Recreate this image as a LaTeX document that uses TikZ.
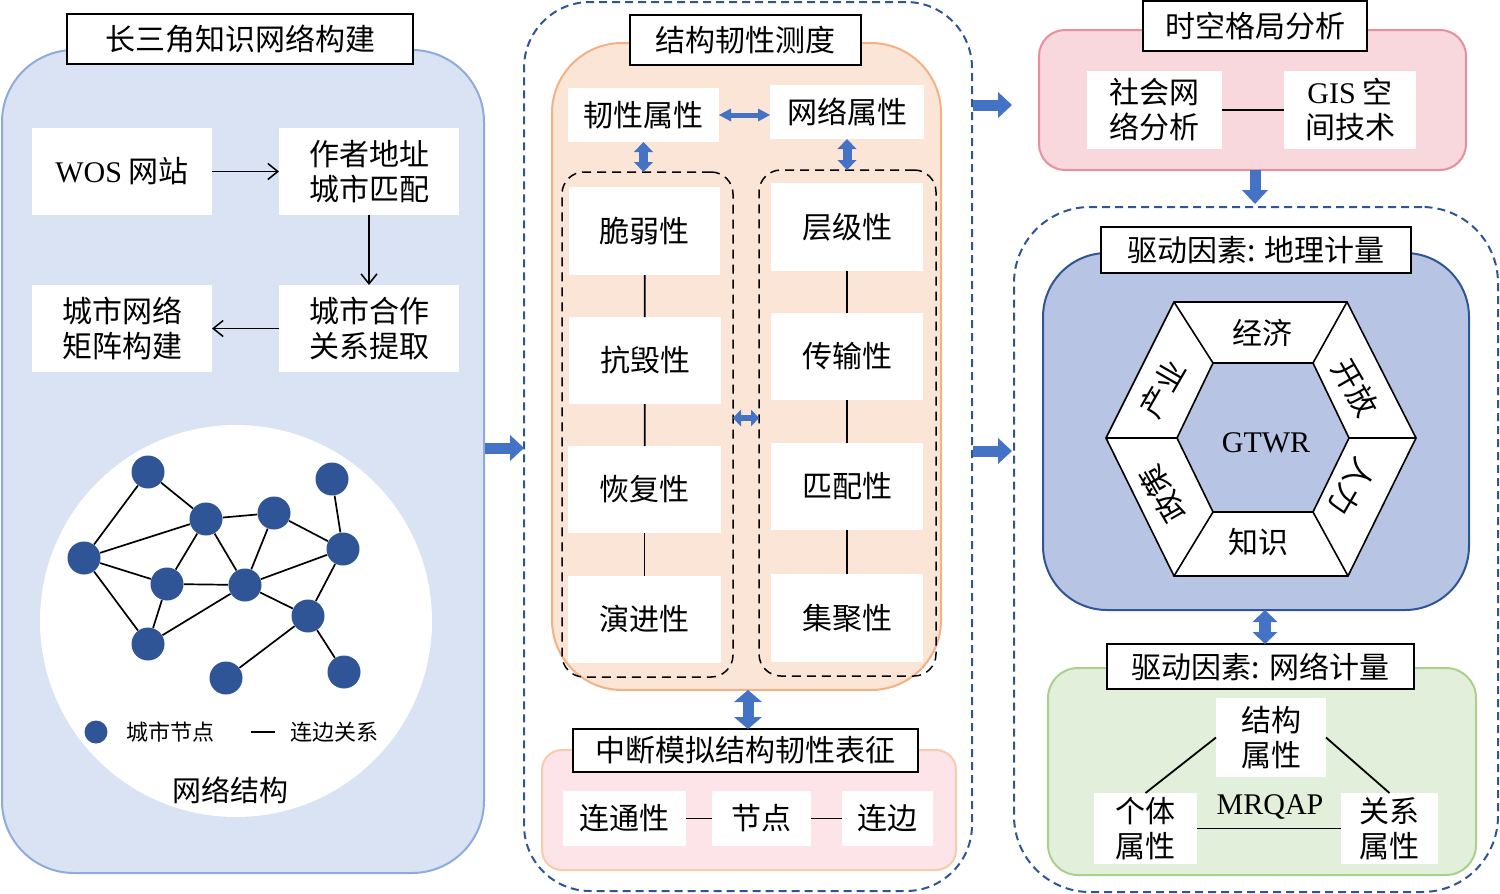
\documentclass[tikz,border=0pt]{standalone}
\usepackage{fontspec}
\setmainfont{Liberation Serif}
\newfontfamily\cjk{Noto Sans CJK SC}
\usetikzlibrary{arrows.meta}
\definecolor{lpfill}{HTML}{DAE3F3}
\definecolor{lpdraw}{HTML}{8FAADC}
\definecolor{orfill}{HTML}{FBE5D6}
\definecolor{ordraw}{HTML}{F4B183}
\definecolor{pkfill}{HTML}{FCE4E8}
\definecolor{pkdraw}{HTML}{F8CBAD}
\definecolor{tpfill}{HTML}{F8D7DD}
\definecolor{tpdraw}{HTML}{E98E9E}
\definecolor{gbfill}{HTML}{B7C4E3}
\definecolor{darkblue}{HTML}{2F5597}
\definecolor{arrblue}{HTML}{4472C4}
\definecolor{grfill}{HTML}{E2EFDA}
\definecolor{grdraw}{HTML}{A9D18E}
\newcommand\lat[1]{{\rmfamily #1}}
% #1 style, #2 name, #3 x1, #4 y1, #5 x2, #6 y2, #7 text
\newcommand\bx[7]{\node[#1, minimum width={(#5-#3)*0.5pt}, minimum height={(#6-#4)*0.5pt}] (#2) at ({(#3+#5)/2},{(#4+#6)/2}) {#7};}
\begin{document}
\begin{tikzpicture}[x=0.5pt,y=-0.5pt,
  font=\cjk\fontsize{15}{17.5}\selectfont,
  box/.style={inner sep=0pt, outer sep=0pt, align=center},
  panel/.style={box, line width=1pt},
  bluedash/.style={panel, draw=darkblue, dash pattern=on 4pt off 2.5pt},
  coldash/.style={panel, draw=black, line width=0.75pt, dash pattern=on 4.5pt off 3pt, rounded corners=11pt},
  wbox/.style={box, fill=white},
  tbox/.style={box, fill=white, draw=black, line width=0.8pt},
  cnode/.style={circle, fill=darkblue, inner sep=0pt, minimum size=16.5pt},
  edge/.style={draw=black, line width=0.85pt},
  conn/.style={draw=black, line width=0.9pt},
  thinarr/.style={draw=black, line width=0.75pt, -{Straight Barb[length=5pt,width=8pt]}},
  bigarr/.style={draw=arrblue, line width=5.5pt, -{Triangle[length=7pt,width=13pt,line width=0pt]}},
  bigdbl/.style={draw=arrblue, line width=5.5pt, {Triangle[length=6pt,width=14pt,line width=0pt]}-{Triangle[length=6pt,width=14pt,line width=0pt]}},
  gdbl/.style={draw=arrblue, line width=6pt, {Triangle[length=6pt,width=12.5pt,line width=0pt]}-{Triangle[length=6pt,width=12.5pt,line width=0pt]}},
  smdblv/.style={draw=arrblue, line width=4.5pt, {Triangle[length=5pt,width=9.5pt,line width=0pt]}-{Triangle[length=5pt,width=9.5pt,line width=0pt]}},
  smdblh/.style={draw=arrblue, line width=2.5pt, {Triangle[length=6pt,width=6.5pt,line width=0pt]}-{Triangle[length=6pt,width=6.5pt,line width=0pt]}},
  middbl/.style={draw=arrblue, line width=3pt, {Triangle[length=4pt,width=8.5pt,line width=0pt]}-{Triangle[length=4pt,width=8.5pt,line width=0pt]}},
  hexl/.style={draw=black, line width=0.8pt},
  legend/.style={box, font=\cjk\fontsize{11}{13}\selectfont},
]
\useasboundingbox (0,0) rectangle (1500,894);

% ===== Left panel =====
\bx{panel, fill=lpfill, draw=lpdraw, rounded corners=36pt}{lp}{2}{50}{484}{873}{}
\bx{tbox}{lpt}{67}{14}{413}{64}{长三角知识网络构建}
\bx{wbox}{wos}{32}{128}{212}{215}{\lat{WOS} 网站}
\bx{wbox}{addr}{279}{128}{459}{215}{作者地址\\城市匹配}
\bx{wbox}{mat}{32}{285}{212}{372}{城市网络\\矩阵构建}
\bx{wbox}{coop}{279}{285}{459}{372}{城市合作\\关系提取}
\draw[thinarr] (wos) -- (addr);
\draw[thinarr] (addr) -- (coop);
\draw[thinarr] (coop) -- (mat);

\node[circle, fill=white, inner sep=0pt, minimum size=196pt] (circ) at (236,621) {};
\foreach \n/\x/\y in {n1/148/472, n2/206/519, n3/274/513, n4/332/479, n5/84/558, n6/343/549,
  n7/167/584, n8/245/585, n9/308/616, n10/148/644, n11/226/678, n12/344/672}
  \node[cnode] (\n) at (\x,\y) {};
\foreach \a/\b in {n1/n5, n1/n2, n2/n5, n2/n3, n2/n7, n2/n8, n3/n8, n3/n6, n4/n6, n6/n8, n6/n9,
  n5/n7, n5/n10, n7/n8, n7/n10, n8/n10, n8/n9, n9/n11, n9/n12}
  \draw[edge] (\a) -- (\b);
\node[cnode, minimum size=11.5pt] (lg1) at (96,732) {};
\node[legend] (lg1t) at (170,732) {城市节点};
\coordinate (lg2a) at (251,732);
\coordinate (lg2b) at (275,732);
\draw[edge] (lg2a) -- (lg2b);
\node[legend] (lg2t) at (334,732) {连边关系};
\node[box, font=\cjk\fontsize{14.5}{17}\selectfont] (netl) at (230,790) {网络结构};

% ===== Middle panel =====
\bx{bluedash, rounded corners=33pt}{mp}{524}{2}{972}{891}{}
\bx{panel, fill=orfill, draw=ordraw, rounded corners=35pt}{op}{552}{43}{941}{690}{}
\bx{coldash}{lcol}{562}{172}{733}{677}{}
\bx{coldash}{rcol}{759}{170}{936}{676}{}
\bx{tbox}{opt}{630}{15}{861}{65}{结构韧性测度}
\bx{wbox}{rt}{568}{88}{719}{142}{韧性属性}
\bx{wbox}{nt}{770}{85}{924}{139}{网络属性}
\bx{wbox}{c1}{569}{187}{720}{275}{脆弱性}
\bx{wbox}{c2}{569}{317}{721}{404}{抗毁性}
\bx{wbox}{c3}{568}{446}{721}{533}{恢复性}
\bx{wbox}{c4}{568}{576}{721}{663}{演进性}
\bx{wbox}{d1}{771}{183}{923}{271}{层级性}
\bx{wbox}{d2}{771}{313}{923}{400}{传输性}
\bx{wbox}{d3}{771}{443}{923}{530}{匹配性}
\bx{wbox}{d4}{771}{574}{923}{662}{集聚性}
\draw[conn] (c1) -- (c2);
\draw[conn] (c2) -- (c3);
\draw[conn] (c3) -- (c4);
\draw[conn] (d1) -- (d2);
\draw[conn] (d2) -- (d3);
\draw[conn] (d3) -- (d4);
\draw[smdblh] (rt.east) -- (rt.east -| nt.west);
\draw[smdblv] (rt.south) -- (rt.south |- lcol.north);
\draw[smdblv] (nt.south) -- (nt.south |- rcol.north);
\coordinate (mh) at (733,418);
\draw[middbl] (mh) -- (mh -| rcol.west);

\bx{panel, fill=pkfill, draw=pkdraw, rounded corners=10pt}{bp}{542}{750}{956}{870}{}
\bx{tbox}{bpt}{573}{729}{918}{772}{中断模拟结构韧性表征}
\bx{wbox}{b1}{563}{791}{686}{846}{连通性}
\bx{wbox}{b2}{712}{791}{811}{846}{节点}
\bx{wbox}{b3}{842}{791}{933}{846}{连边}
\draw[conn] (b1) -- (b2);
\draw[conn] (b2) -- (b3);
\coordinate (d748) at (748,690);
\draw[bigdbl] (d748) -- (d748 |- bpt.north);

% ===== Right: top =====
\bx{panel, fill=tpfill, draw=tpdraw, rounded corners=13pt}{tp}{1039}{30}{1466}{170}{}
\bx{tbox}{tpt}{1143}{1}{1367}{51}{时空格局分析}
\bx{wbox}{sna}{1087}{71}{1222}{149}{社会网\\络分析}
\bx{wbox}{gis}{1284}{71}{1416}{149}{\lat{GIS} 空\\间技术}
\draw[conn] (sna) -- (gis);

% ===== Right: dashed group =====
\bx{bluedash, rounded corners=38pt}{rp}{1014}{207}{1498}{892}{}
\bx{panel, fill=gbfill, draw=darkblue, rounded corners=32pt}{gp}{1043}{253}{1469}{610}{}
\bx{tbox}{gpt}{1101}{227}{1411}{273}{驱动因素: 地理计量}

\coordinate (O1) at (1106,438);
\coordinate (O2) at (1174,302);
\coordinate (O3) at (1347,302);
\coordinate (O4) at (1416,438);
\coordinate (O5) at (1348,576);
\coordinate (O6) at (1174,576);
\coordinate (I1) at (1177,438);
\coordinate (I2) at (1213,363);
\coordinate (I3) at (1313,363);
\coordinate (I4) at (1349,438);
\coordinate (I5) at (1313,512);
\coordinate (I6) at (1213,512);
\draw[hexl, fill=white] (O1) -- (O2) -- (O3) -- (O4) -- (O5) -- (O6) -- cycle;
\draw[hexl, fill=gbfill] (I1) -- (I2) -- (I3) -- (I4) -- (I5) -- (I6) -- cycle;
\foreach \i in {1,...,6} \draw[hexl] (O\i) -- (I\i);
\node[box] (hx1) at (1262,333) {经济};
\node[box, rotate=-60] (hx2) at (1355,388) {开放};
\node[box, rotate=240] (hx3) at (1352,487) {人力};
\node[box] (hx4) at (1258,542) {知识};
\node[box, rotate=120] (hx5) at (1163,494) {政策};
\node[box, rotate=60] (hx6) at (1163,389) {产业};
\node[box] (gtwr) at (1266,443) {\lat{GTWR}};

\bx{panel, fill=grfill, draw=grdraw, rounded corners=15pt}{grp}{1048}{668}{1476}{875}{}
\bx{tbox}{grt}{1107}{644}{1414}{689}{驱动因素: 网络计量}
\bx{wbox}{stru}{1216}{698}{1326}{777}{结构\\属性}
\bx{wbox}{indiv}{1094}{793}{1197}{864}{个体\\属性}
\bx{wbox}{rel}{1341}{793}{1438}{864}{关系\\属性}
\draw[conn] (stru.west) -- (indiv.north);
\draw[conn] (stru.east) -- (rel.north);
\draw[conn] (indiv.east) -- (rel.west);
\node[box] (mrqap) at (1270,807) {\lat{MRQAP}};
\coordinate (d1265) at (1265,610);
\draw[gdbl] (d1265) -- (d1265 |- grt.north);

% ===== Big arrows between panels =====
\coordinate (a1) at (485,448);
\draw[bigarr] (a1) -- (a1 -| mp.west);
\coordinate (a2) at (973,105);
\coordinate (a2e) at (1012,105);
\draw[bigarr] (a2) -- (a2e);
\coordinate (a3) at (973,451);
\coordinate (a3e) at (1012,451);
\draw[bigarr] (a3) -- (a3e);
\coordinate (a4) at (1255,170);
\coordinate (a4e) at (1255,204);
\draw[bigarr] (a4) -- (a4e);
\end{tikzpicture}
\end{document}
